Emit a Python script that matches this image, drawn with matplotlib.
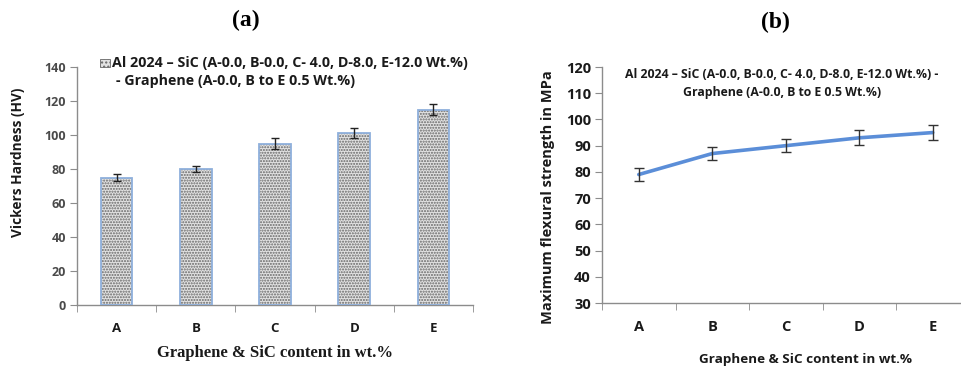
"""Vickers hardness bars and flexural strength line for Al 2024 - SiC - Graphene."""

import matplotlib

matplotlib.use("Agg")
import matplotlib.pyplot as plt
import numpy as np

categories = ["A", "B", "C", "D", "E"]
hardness = [75, 80, 95, 101, 115]
hardness_err = [2, 2, 3, 3, 3]
flexural = [79, 87, 90, 93, 95]
flexural_err = [2.5, 2.5, 2.5, 2.8, 3]

legend_line1 = "Al 2024 \u2013 SiC (A-0.0, B-0.0, C- 4.0, D-8.0, E-12.0 Wt.%)"
legend_line2 = "- Graphene (A-0.0, B to E 0.5 Wt.%)"
xlabel = "Graphene & SiC content in wt.%"

SANS = ["Open Sans", "DejaVu Sans"]
SERIF = ["Liberation Serif", "DejaVu Serif"]
SPINE = "#8c8c8c"
TXT = "#1a1a1a"

plt.rcParams["font.family"] = SANS
plt.rcParams["hatch.linewidth"] = 1.0

fig = plt.figure(figsize=(9.62, 3.66), dpi=100)
x = np.arange(len(categories))


def style_axes(ax, label_size):
    for side in ("top", "right"):
        ax.spines[side].set_visible(False)
    for side in ("left", "bottom"):
        ax.spines[side].set_color(SPINE)
        ax.spines[side].set_linewidth(1.0)
    ax.set_xlim(-0.5, len(categories) - 0.5)
    ax.set_xticks(x)
    ax.set_xticks(np.arange(len(categories) + 1) - 0.5, minor=True)
    ax.set_xticklabels(categories)
    for t in ax.get_xticklabels():
        t.set_fontsize(label_size)
        t.set_fontweight("bold")
        t.set_color(TXT)
    ax.tick_params(axis="x", which="major", length=0, pad=12)
    ax.tick_params(axis="x", which="minor", length=5, color=SPINE, direction="out")
    ax.tick_params(axis="y", length=5, color=SPINE, direction="out", pad=3)


# (a) hardness bars
ax1 = fig.add_axes([0.080, 0.1667, 0.4117, 0.650])
style_axes(ax1, 9.5)
ax1.bar(x, hardness, width=0.4, color="#e2e2e2", edgecolor="#666666",
        hatch="......", linewidth=0, zorder=2)
ax1.bar(x, hardness, width=0.4, fill=False, edgecolor="#8fb0dc",
        linewidth=1.3, zorder=3)
ax1.errorbar(x, hardness, yerr=hardness_err, fmt="none", ecolor="#222222",
             elinewidth=1.0, capsize=3, capthick=1.0, zorder=4)
ax1.set_ylim(0, 140)
ax1.set_yticks(np.arange(0, 141, 20))
for t in ax1.get_yticklabels():
    t.set_fontsize(9)
    t.set_fontweight("bold")
    t.set_color("#4a4a4a")
ax1.set_ylabel("Vickers Hardness (HV)", fontsize=9.8, fontweight="bold",
               color=TXT)
ax1.yaxis.set_label_coords(-0.131, 0.60)

# legend entry (icon + two text lines)
icon = plt.Rectangle((0.058, 1.0), 0.025, 0.034, transform=ax1.transAxes,
                     facecolor="#e2e2e2", edgecolor="#666666", hatch="....",
                     linewidth=0.6, clip_on=False)
ax1.add_patch(icon)
ax1.text(0.088, 1.017, legend_line1, transform=ax1.transAxes, fontsize=10.3,
         fontweight="bold", color=TXT, va="center", ha="left")
ax1.text(0.098, 0.941, legend_line2, transform=ax1.transAxes, fontsize=10.3,
         fontweight="bold", color=TXT, va="center", ha="left")

# (b) flexural strength line
ax2 = fig.add_axes([0.6258, 0.1721, 0.382, 0.6448])
style_axes(ax2, 10.5)
ax2.plot(x, flexural, color="#5b8ed8", linewidth=2.6, solid_capstyle="round",
         zorder=3)
ax2.errorbar(x, flexural, yerr=flexural_err, fmt="none", ecolor="#333333",
             elinewidth=1.0, capsize=3.5, capthick=1.0, zorder=4)
ax2.set_ylim(30, 120)
ax2.set_yticks(np.arange(30, 121, 10))
for t in ax2.get_yticklabels():
    t.set_fontsize(10.5)
    t.set_fontweight("bold")
    t.set_color(TXT)
ax2.set_ylabel("Maximum flexural strength in MPa", fontsize=10.5,
               fontweight="bold", color=TXT)
ax2.yaxis.set_label_coords(-0.128, 0.449)
ax2.text(0.49, 0.97, legend_line1 + " -", transform=ax2.transAxes,
         fontsize=8.8, fontweight="bold", color=TXT, ha="center", va="center")
ax2.text(0.49, 0.89, legend_line2[2:], transform=ax2.transAxes,
         fontsize=8.8, fontweight="bold", color=TXT, ha="center", va="center")

# panel titles and x labels
fig.text(0.256, 0.943, "(a)", family=SERIF, fontsize=17, fontweight="bold",
         color="black", ha="center", va="center")
fig.text(0.806, 0.940, "(b)", family=SERIF, fontsize=17, fontweight="bold",
         color="black", ha="center", va="center")
fig.text(0.286, 0.035, xlabel, family=SERIF, fontsize=12, fontweight="bold",
         color=TXT, ha="center", va="center")
fig.text(0.837, 0.017, xlabel, fontsize=9.7, fontweight="bold",
         color=TXT, ha="center", va="center")

fig.savefig("out.png", dpi=100)
